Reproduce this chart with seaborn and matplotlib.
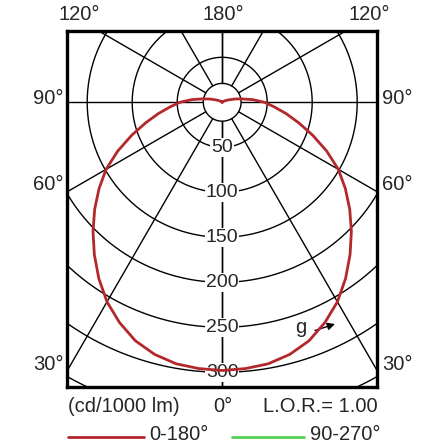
import numpy as np
import pandas as pd
import matplotlib
matplotlib.use("Agg")
import matplotlib.pyplot as plt
from matplotlib.lines import Line2D
import seaborn as sns

# Light distribution, C0-C180 plane (cd/1000 lm)
gamma_deg = [0, 5, 10, 15, 20, 25, 30, 35, 40, 45, 50, 55, 60, 65, 70, 75,
             80, 85, 90, 95, 100, 105, 110, 115, 120, 135, 180]
intensity = [298, 297, 295, 290, 282, 270, 256, 239, 221, 203, 185, 167, 149,
             128, 107, 88, 72, 58, 47, 34, 22, 14, 8, 5, 3, 1, 0]

ring_values = [50, 100, 150, 200, 250, 300, 350]
ring_labels = ["50", "100", "150", "200", "250", "300"]
spoke_deg = [0, 30, 60, 90, 120, 150, 180]
inner_ring = 21

angle_labels_left = ["120°", "90°", "60°", "30°"]
legend_names = ["0-180°", "90-270°"]

RED = "#b3282b"
GREEN = "#55d055"
W = 447.0
SCALE = 0.9          # pixels per cd
CX, CY = 222.2, 102.3  # pole position in pixels

sns.set_theme(style="white")
plt.rcParams['font.family'] = ['Liberation Sans', 'DejaVu Sans']


def fpos(x, y):
    return x / W, 1 - y / W


fig = plt.figure(figsize=(4.47, 4.47), dpi=100)
left, right, top, bottom = 67.3, 377.0, 30.7, 386.7
ax = fig.add_axes([left / W, 1 - bottom / W, (right - left) / W, (bottom - top) / W])
ax.set_xlim((left - CX) / SCALE, (right - CX) / SCALE)
ax.set_ylim(-(bottom - CY) / SCALE, (CY - top) / SCALE)

# grid: rings and spokes
t = np.linspace(0, 2 * np.pi, 721)
for r in [inner_ring] + ring_values:
    ax.plot(r * np.sin(t), r * np.cos(t), color="black", lw=1.0, zorder=1)
for a in spoke_deg:
    for s in (1, -1):
        g = np.deg2rad(a) * s
        ax.plot([inner_ring * np.sin(g), 600 * np.sin(g)],
                [-inner_ring * np.cos(g), -600 * np.cos(g)],
                color="black", lw=1.0, zorder=1)

# ring labels on the 0 deg axis
for v, lab in zip(ring_values, ring_labels):
    ax.text(0, -v, lab, ha="center", va="center", fontsize=14, zorder=3,
            bbox=dict(boxstyle="square,pad=0.05", fc="white", ec="none"))

# curve, mirrored for both halves of the plane
g = np.array([-a for a in gamma_deg[::-1]] + gamma_deg[1:])
r = np.array(intensity[::-1] + intensity[1:])
rad = np.deg2rad(g)
df = pd.DataFrame({"x": r * np.sin(rad), "y": -r * np.cos(rad)})
sns.lineplot(data=df, x="x", y="y", sort=False, estimator=None, color=RED,
             lw=2.0, ax=ax, zorder=4, solid_joinstyle="round")

ax.set_xticks([])
ax.set_yticks([])
ax.set_xlabel("")
ax.set_ylabel("")
for sp in ax.spines.values():
    sp.set_visible(True)
    sp.set_color("black")
    sp.set_linewidth(2.4)

# "g" with arrow
ax.annotate("", xy=fpos(335, 324), xycoords="figure fraction",
            xytext=fpos(315, 330.5), textcoords="figure fraction",
            arrowprops=dict(arrowstyle="-|>", color="black", lw=1.0,
                            mutation_scale=11, shrinkA=0, shrinkB=0))
fig.text(*fpos(301, 333), "g", ha="center", va="baseline", fontsize=14.5)

# angle labels around the frame
fs = 14.5
fig.text(*fpos(79, 14), "120°", ha="center", va="center", fontsize=fs)
fig.text(*fpos(223, 14), "180°", ha="center", va="center", fontsize=fs)
fig.text(*fpos(369, 14), "120°", ha="center", va="center", fontsize=fs)
for lab, y in zip(angle_labels_left[1:], [98, 184.5, 364]):
    fig.text(*fpos(64, y), lab, ha="right", va="center", fontsize=fs)
    fig.text(*fpos(382, y), lab, ha="left", va="center", fontsize=fs)
fig.text(*fpos(223, 407), "0°", ha="center", va="center", fontsize=fs)
fig.text(*fpos(68, 407), "(cd/1000 lm)", ha="left", va="center", fontsize=fs)
fig.text(*fpos(378, 407), "L.O.R.= 1.00", ha="right", va="center", fontsize=fs)

# legend row
fig.add_artist(Line2D([68 / W, 144 / W], [1 - 437 / W] * 2, color=RED, lw=2.0))
fig.text(*fpos(149, 434), legend_names[0], ha="left", va="center", fontsize=fs)
fig.add_artist(Line2D([232 / W, 304 / W], [1 - 437 / W] * 2, color=GREEN, lw=2.0))
fig.text(*fpos(310, 434), legend_names[1], ha="left", va="center", fontsize=fs)

fig.savefig("out.png", dpi=100)
